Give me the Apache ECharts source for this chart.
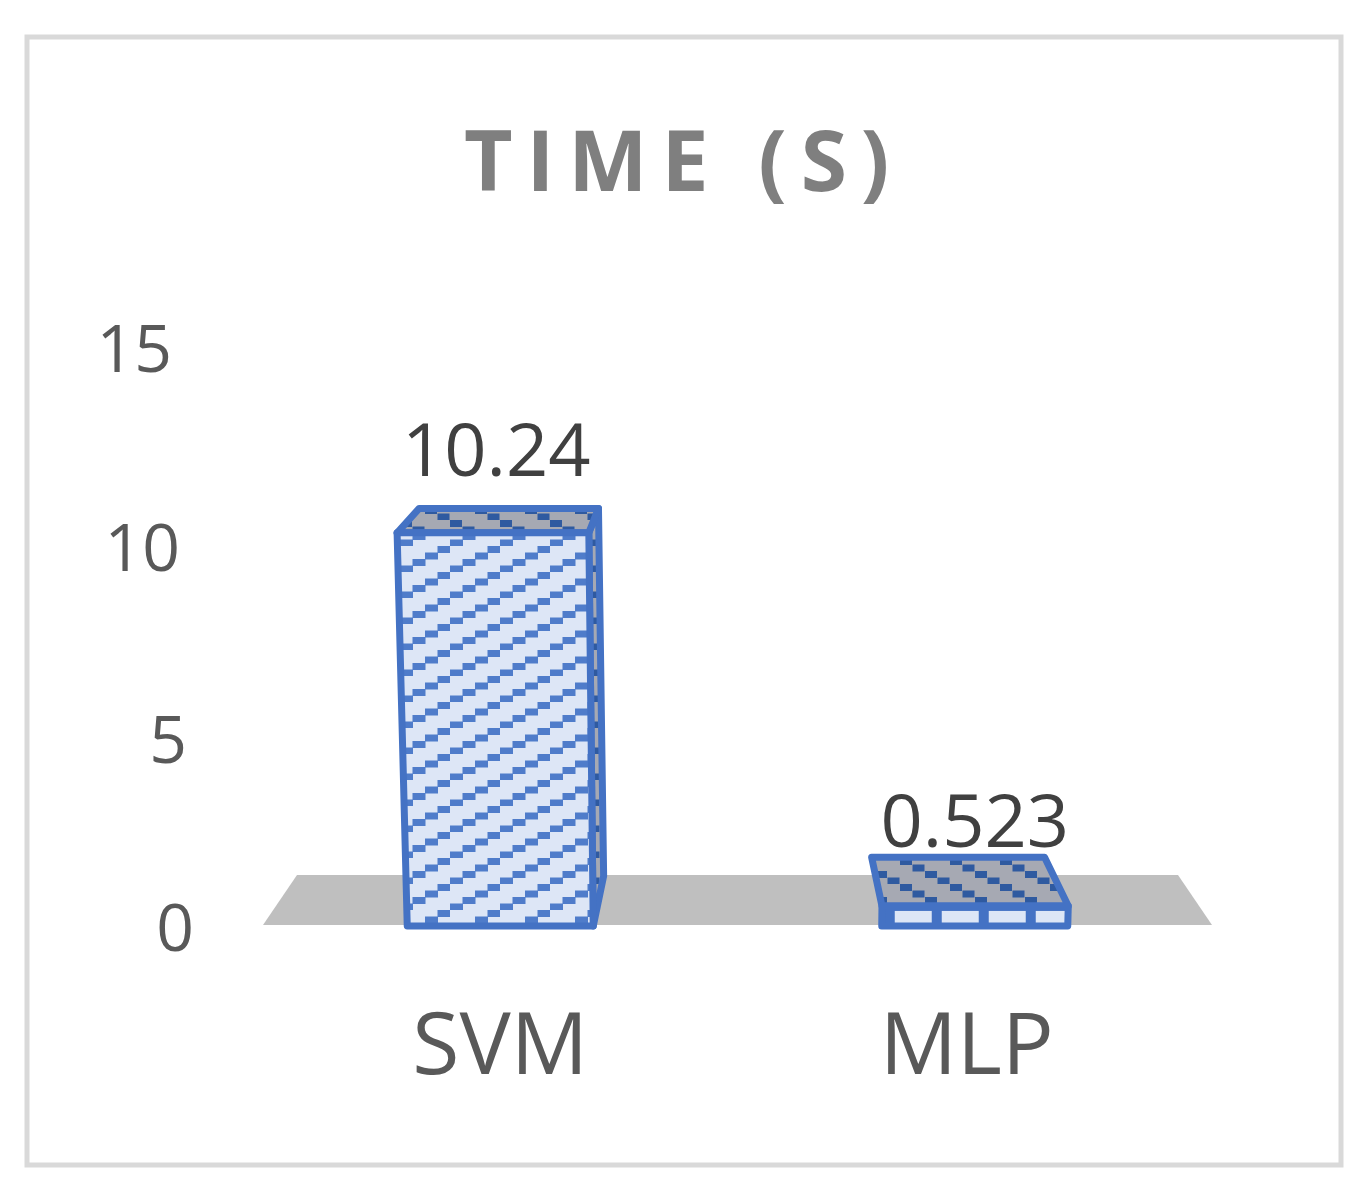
<!DOCTYPE html>
<html>
<head>
<meta charset="utf-8">
<title>Time (s)</title>
<script src="https://cdn.jsdelivr.net/npm/echarts@6/dist/echarts.min.js"></script>
<style>
html, body { margin: 0; padding: 0; background: #fff; }
#main { width: 1370px; height: 1186px; }
</style>
</head>
<body>
<div id="main"></div>
<script>
var categories = ["SVM", "MLP"];
var times = [10.24, 0.523];
var valueTicks = [0, 5, 10, 15];
var chartTitle = "T\u2009I\u2009M\u2009E\u2009\u2009 (\u2009S\u2009)";

var BLUE = "#4472c4";
var labelGap = [16, -6]; // data label distance above the box, by category

// hatch tiles, the same idea as excel's pattern fills
function tile(w, h, bg, color, blocks) {
  var c = document.createElement("canvas");
  c.width = w;
  c.height = h;
  var ctx = c.getContext("2d");
  ctx.fillStyle = bg;
  ctx.fillRect(0, 0, w, h);
  ctx.fillStyle = color;
  blocks.forEach(function (b) {
    ctx.fillRect(b[0], b[1], b[2], b[3]);
  });
  return c;
}

var upDiag = tile(50, 26, "#dde6f6", "#4f7cca", [
  [0, 19.5, 13, 7], [12.5, 13, 13, 7], [25, 6.5, 13, 7], [37.5, 0, 13, 7]
]);
var downDiag = tile(50, 26, "#a6a9b3", "#2f5aa0", [
  [0, 0, 12, 7], [12.5, 6.5, 12, 7], [25, 13, 12, 7], [37.5, 19.5, 12, 7]
]);
var ribs = tile(47, 24, BLUE, "#dde6f6", [[0, 5, 37, 14]]);

// perspective of the 3d box, value 0 is on the floor
function project(cx, x, v, y0, unit, back) {
  var s = back ? 0.928 + 0.0035 * v : 1 + 0.003 * v;
  var y = y0 - v * unit;
  if (back) y -= 50 - 2.5 * v;
  return [cx + (x - cx) * s, y];
}

function renderBox(params, api) {
  var i = api.value(0);
  var v = api.value(1);
  var grid = params.coordSys;
  var cx = grid.x + grid.width / 2;
  var zero = api.coord([i, 0]);
  var unit = zero[1] - api.coord([i, 1])[1];
  var y0 = zero[1] - 6;
  var hw = api.size([1, 0])[0] * 0.196;
  var l = zero[0] - hw, r = zero[0] + hw;

  var fl = project(cx, l, 0, y0, unit, false);
  var fr = project(cx, r, 0, y0, unit, false);
  var tl = project(cx, l, v, y0, unit, false);
  var tr = project(cx, r, v, y0, unit, false);
  var bl = project(cx, l, v, y0, unit, true);
  var br = project(cx, r, v, y0, unit, true);
  var fbr = project(cx, r, 0, y0, unit, true);

  var line = { stroke: BLUE, lineWidth: 7, lineJoin: "round" };
  var children = [];

  if (params.dataIndex === 0) {
    children.push({
      type: "polygon",
      shape: { points: [
        [grid.x, y0 - 1],
        [grid.x + grid.width, y0 - 1],
        [grid.x + grid.width - 34, y0 - 51],
        [grid.x + 34, y0 - 51]
      ] },
      style: { fill: "#bfbfbf" }
    });
  }
  if (br[0] > tr[0]) {
    children.push({
      type: "polygon",
      shape: { points: [fr, fbr, br, tr] },
      style: Object.assign({ fill: { image: downDiag, repeat: "repeat" } }, line)
    });
  }
  children.push({
    type: "polygon",
    shape: { points: [tl, tr, br, bl] },
    style: Object.assign({ fill: { image: downDiag, repeat: "repeat" } }, line)
  });
  var short = fl[1] - tl[1] < 40;
  children.push({
    type: "polygon",
    shape: { points: [fl, fr, tr, tl] },
    style: Object.assign({
      fill: short
        ? { image: ribs, repeat: "repeat", x: fl[0] + 13, y: tl[1] }
        : { image: upDiag, repeat: "repeat" }
    }, line)
  });
  children.push({
    type: "text",
    style: {
      x: zero[0] - (i === 0 ? 4 : 0),
      y: Math.min(bl[1], tl[1]) - labelGap[i],
      text: String(v),
      fill: "#404040",
      font: '74px "Open Sans"',
      textAlign: "center",
      textVerticalAlign: "bottom"
    }
  });
  return { type: "group", children: children };
}

var chart = echarts.init(document.getElementById("main"), null, { renderer: "canvas" });
chart.setOption({
  animation: false,
  backgroundColor: "#fff",
  title: {
    text: chartTitle,
    left: 459,
    top: 120,
    textStyle: { fontFamily: "Open Sans", fontSize: 84, fontWeight: "bold", color: "#7f7f7f" }
  },
  graphic: [{
    type: "rect",
    z: -1,
    shape: { x: 27, y: 37, width: 1314, height: 1128 },
    style: { fill: "#fff", stroke: "#d9d9d9", lineWidth: 5 }
  }],
  grid: { left: 263, width: 949, top: 356, height: 576 },
  xAxis: {
    type: "category",
    data: categories,
    axisLine: { show: false },
    axisTick: { show: false },
    axisLabel: {
      interval: 0,
      hideOverlap: false,
      margin: 74,
      fontFamily: "Open Sans",
      fontSize: 86,
      color: "#595959",
      formatter: function (c) { return "{" + c + "|" + c + "}"; },
      rich: {
        SVM: { padding: [0, 0, 0, 0] },
        MLP: { padding: [0, 16, 0, 0] }
      }
    }
  },
  yAxis: {
    type: "value",
    min: valueTicks[0],
    max: valueTicks[valueTicks.length - 1],
    interval: valueTicks[1] - valueTicks[0],
    splitLine: { show: false },
    axisLine: { show: false },
    axisTick: { show: false },
    axisLabel: {
      margin: 69,
      fontFamily: "Open Sans",
      fontSize: 66,
      color: "#595959",
      formatter: function (v) { return "{t" + v + "|" + v + "}"; },
      rich: {
        t0: { padding: [0, 0, 0, 0] },
        t5: { padding: [8, 7, 0, 0] },
        t10: { padding: [8, 14, 0, 0] },
        t15: { padding: [0, 22, 6, 0] }
      }
    }
  },
  series: [{
    type: "custom",
    clip: false,
    renderItem: renderBox,
    encode: { x: 0, y: 1 },
    data: times.map(function (t, i) { return [i, t]; })
  }]
});
</script>
</body>
</html>
